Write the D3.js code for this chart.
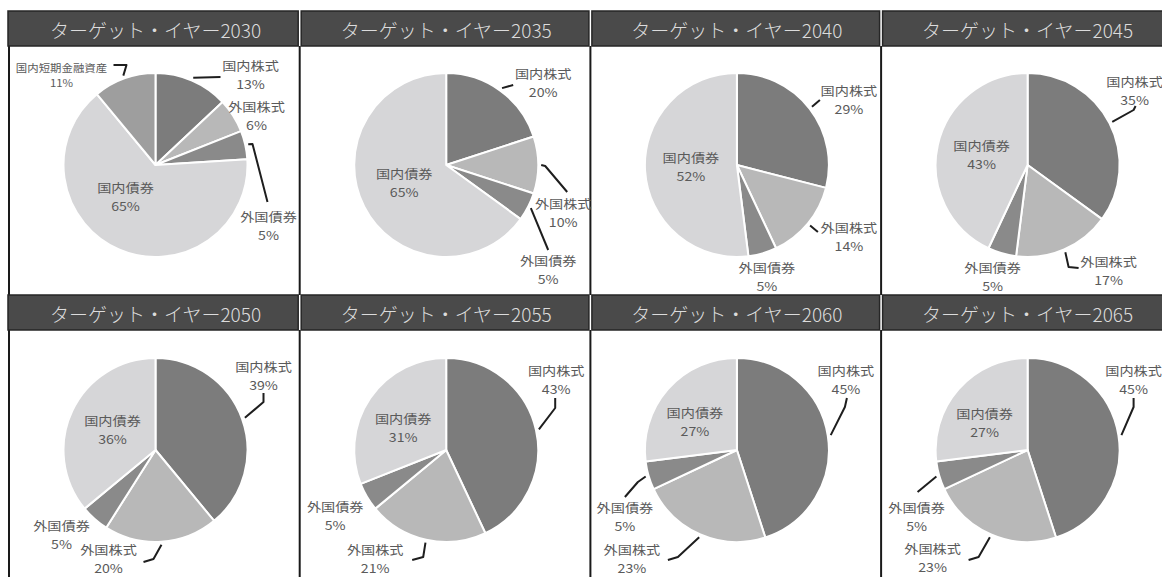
<!DOCTYPE html>
<html><head><meta charset="utf-8">
<script src="https://cdn.jsdelivr.net/npm/d3@7/dist/d3.min.js"></script>
<style>
html,body{margin:0;padding:0;background:#fff;}
svg{display:block;font-family:"Noto Sans CJK JP","Noto Sans",sans-serif;}
</style></head>
<body>
<svg id="chart" width="1162" height="577"></svg>
<script>
// ---- data ----
const years = [2030, 2035, 2040, 2045, 2050, 2055, 2060, 2065];
const categories = ["国内株式", "外国株式", "外国債券", "国内債券", "国内短期金融資産"];
const domesticStocks = [13, 20, 29, 35, 39, 43, 45, 45];
const foreignStocks  = [6, 10, 14, 17, 20, 21, 23, 23];
const foreignBonds   = [5, 5, 5, 5, 5, 5, 5, 5];
const domesticBonds  = [65, 65, 52, 43, 36, 31, 27, 27];
const shortTerm      = [11, 0, 0, 0, 0, 0, 0, 0];
const titlePrefix = "ターゲット・イヤー";

// ---- style / layout ----
const colors = {"国内株式":"#7c7c7c","外国株式":"#b8b8b8","外国債券":"#8a8a8a","国内債券":"#d6d6d8","国内短期金融資産":"#9e9e9e"};
const labelLayout = {
  2030: {"国内株式":{at:[95,-99],leader:[[65,-88]]},"外国株式":{at:[101,-58]},"外国債券":{at:[113,52],leader:[[97,-21],[112,37]]},"国内債券":{at:[-30,23]},"国内短期金融資産":{at:[-94,-98],leader:[[-29,-100],[-42,-100]],small:true}},
  2035: {"国内株式":{at:[97,-91],leader:[[67,-80]]},"外国株式":{at:[117,39],leader:[[99,1],[121,27]]},"外国債券":{at:[102,96],leader:[[102,85]]},"国内債券":{at:[-42,9]}},
  2040: {"国内株式":{at:[112,-74],leader:[[83,-65]]},"外国株式":{at:[112,63],leader:[[81,67]]},"外国債券":{at:[30,103]},"国内債券":{at:[-46,-7]}},
  2045: {"国内株式":{at:[107,-83],leader:[[106,-55],[108,-59]]},"外国株式":{at:[81,97],leader:[[41,102],[51,103]]},"外国債券":{at:[-35,103]},"国内債券":{at:[-46,-19]}},
  2050: {"国内株式":{at:[108,-83],leader:[[108,-48],[108,-57]]},"外国株式":{at:[-47,100],leader:[[-2,109],[-12,112]]},"外国債券":{at:[-94,76]},"国内債券":{at:[-43,-29]}},
  2055: {"国内株式":{at:[110,-79],leader:[[109,-42],[109,-52]]},"外国株式":{at:[-71,100],leader:[[-23,107],[-34,110]]},"外国債券":{at:[-111,57]},"国内債券":{at:[-43,-31]}},
  2060: {"国内株式":{at:[109,-79],leader:[[108,-43],[110,-52]]},"外国株式":{at:[-105,100],leader:[[-59,107],[-69,110]]},"外国債券":{at:[-112,58],leader:[[-99,32],[-112,47]]},"国内債券":{at:[-42,-37]}},
  2065: {"国内株式":{at:[106,-79],leader:[[106,-43],[106,-52]]},"外国株式":{at:[-95,99],leader:[[-49,107],[-59,110]]},"外国債券":{at:[-111,58],leader:[[-110,42]]},"国内債券":{at:[-43,-36]}}
};

const svg = d3.select("#chart");
const colX0 = 9, colW = 290.7, nCols = 4;
const headerTop = [11, 295], headerH = 35, rowBottom = [295, 577];
const pieCY = [165, 450];
const R = 92;

const seriesByCat = {"国内株式":domesticStocks,"外国株式":foreignStocks,"外国債券":foreignBonds,"国内債券":domesticBonds,"国内短期金融資産":shortTerm};

const pie = d3.pie().sort(null).value(d => d.value).startAngle(0).endAngle(2*Math.PI);
const arc = d3.arc().innerRadius(0).outerRadius(R);
const edgeArc = d3.arc().innerRadius(R + 3).outerRadius(R + 3);

// dividers
for (let row = 0; row < 2; row++) {
  for (let i = 0; i <= nCols; i++) {
    const x = colX0 + colW * i;
    svg.append("line").attr("x1", x).attr("x2", x)
      .attr("y1", headerTop[row] + headerH).attr("y2", rowBottom[row])
      .attr("stroke", "#1a1a1a").attr("stroke-width", 2);
  }
}

years.forEach((yr, idx) => {
  const col = idx % nCols, row = Math.floor(idx / nCols);
  const x0 = colX0 + colW * col;
  const cx = x0 + 146.5, cy = pieCY[row];

  // header
  svg.append("rect").attr("x", x0 + (col === 0 ? -1 : 1.5)).attr("y", headerTop[row])
    .attr("width", colW - (col === 0 ? 0.5 : 3)).attr("height", headerH)
    .attr("fill", "#4a4a4a").attr("stroke", "#262626").attr("stroke-width", 1.5);
  svg.append("text").attr("x", cx).attr("y", headerTop[row] + headerH / 2 + 1)
    .attr("text-anchor", "middle").attr("dominant-baseline", "central")
    .attr("font-size", 19).attr("font-weight", 300).attr("fill", "#dcdcdc")
    .text(titlePrefix + yr);

  const data = categories.map(c => ({cat: c, value: seriesByCat[c][idx]})).filter(d => d.value > 0);
  const arcs = pie(data);
  const g = svg.append("g").attr("transform", `translate(${cx},${cy})`);
  g.selectAll("path.slice").data(arcs).join("path").attr("class", "slice")
    .attr("d", arc).attr("fill", d => colors[d.data.cat])
    .attr("stroke", "#fff").attr("stroke-width", 2).attr("stroke-linejoin", "round");

  const lay = labelLayout[yr];
  arcs.forEach(a => {
    const L = lay[a.data.cat];
    if (!L) return;
    if (L.leader) {
      const start = edgeArc.centroid(a);
      const pts = [start].concat(L.leader);
      g.append("path").attr("d", d3.line()(pts)).attr("fill", "none")
        .attr("stroke", "#1e1e1e").attr("stroke-width", 2).attr("stroke-linejoin", "round");
    }
    const fs = L.small ? 10.2 : 12.2;
    const gap = L.small ? 15 : 18;
    const sx = L.small ? 1.12 : 1.16;
    const lg = g.append("g").attr("transform", `translate(${L.at[0]},${L.at[1]}) scale(${sx},1)`)
      .attr("fill", "#5a5a5a").attr("font-size", fs);
    lg.append("text").attr("text-anchor", "middle").attr("dominant-baseline", "central")
      .attr("x", 0).attr("y", 0).text(a.data.cat);
    lg.append("text").attr("text-anchor", "middle").attr("dominant-baseline", "central")
      .attr("x", 0).attr("y", gap).text(a.data.value + "%");
  });
});
</script>
</body></html>
